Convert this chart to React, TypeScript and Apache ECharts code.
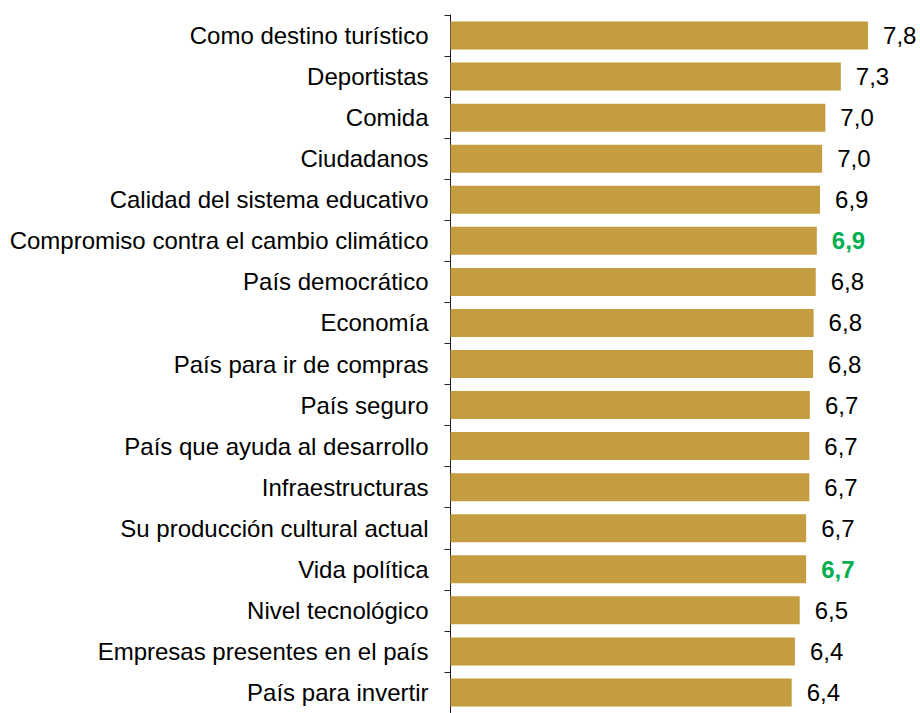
import React, { useEffect, useRef } from "react";
import * as echarts from "echarts";

const categories = [
  "Como destino turístico",
  "Deportistas",
  "Comida",
  "Ciudadanos",
  "Calidad del sistema educativo",
  "Compromiso contra el cambio climático",
  "País democrático",
  "Economía",
  "País para ir de compras",
  "País seguro",
  "País que ayuda al desarrollo",
  "Infraestructuras",
  "Su producción cultural actual",
  "Vida política",
  "Nivel tecnológico",
  "Empresas presentes en el país",
  "País para invertir",
];

const values = [
  7.82, 7.31, 7.02, 6.96, 6.92, 6.86, 6.84, 6.8, 6.79, 6.73, 6.72, 6.72, 6.66,
  6.66, 6.54, 6.45, 6.39,
];

const valueLabels = [
  "7,8", "7,3", "7,0", "7,0", "6,9", "6,9", "6,8", "6,8", "6,8", "6,7", "6,7",
  "6,7", "6,7", "6,7", "6,5", "6,4", "6,4",
];

const highlighted = [
  "Compromiso contra el cambio climático",
  "Vida política",
];

export default function App() {
  const ref = useRef<HTMLDivElement>(null);
  useEffect(() => {
    if (!ref.current) return;
    const chart = echarts.init(ref.current, null, { renderer: "svg" });
    const data = categories.map((c, i) => {
      const hl = highlighted.includes(c);
      return {
        value: values[i],
        label: {
          color: hl ? "#00B050" : "#000000",
          fontWeight: hl ? "bold" : "normal",
        },
      };
    });
    chart.setOption({
      animation: false,
      grid: { left: 450.5, right: 15.6, top: 15, bottom: -5.8, containLabel: false },
      xAxis: {
        type: "value",
        min: 0,
        max: 8.5,
        show: false,
      },
      yAxis: {
        type: "category",
        data: categories,
        inverse: true,
        axisLine: { show: true, lineStyle: { color: "#222222", width: 1 } },
        axisTick: { show: true, length: 6, lineStyle: { color: "#222222", width: 1 } },
        axisLabel: {
          margin: 22,
          fontFamily: "Liberation Sans, Arial, sans-serif",
          fontSize: 24,
          color: "#000000",
        },
      },
      series: [
        {
          type: "bar",
          data,
          barWidth: 28,
          itemStyle: { color: "#C59D41" },
          label: {
            show: true,
            position: "right",
            distance: 15,
            fontFamily: "Liberation Sans, Arial, sans-serif",
            fontSize: 24,
            formatter: (p: any) => valueLabels[p.dataIndex],
          },
        },
      ],
    });
    return () => chart.dispose();
  }, []);
  return (
    <div
      ref={ref}
      style={{ position: "absolute", left: 0, top: 0, width: 920, height: 713 }}
    />
  );
}
